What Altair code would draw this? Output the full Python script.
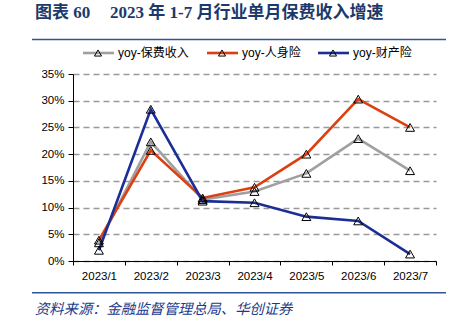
import altair as alt
import pandas as pd

months = ["2023/1", "2023/2", "2023/3", "2023/4", "2023/5", "2023/6", "2023/7"]
series_names = ["yoy-保费收入", "yoy-人身险", "yoy-财产险"]
premium = [3.4, 22.3, 11.5, 13.0, 16.4, 22.9, 16.9]
life = [3.9, 20.7, 11.8, 13.8, 20.0, 30.3, 25.0]
property_ins = [2.0, 28.4, 11.2, 10.9, 8.3, 7.5, 1.3]
y_ticks = [0, 0.05, 0.10, 0.15, 0.20, 0.25, 0.30, 0.35]
colors = ["#A0A0A0", "#DC4010", "#1B2E96"]

title_left = "图表 60"
title_right = "2023 年 1-7 月行业单月保费收入增速"
source_text = "资料来源：金融监督管理总局、华创证券"

W, H = 363, 187
FONT = "Liberation Sans, Noto Sans CJK SC"

rows = []
for name, vals in zip(series_names, [premium, life, property_ins]):
    for m, v in zip(months, vals):
        rows.append({"month": m, "series": name, "value": v / 100})
df = pd.DataFrame(rows)

xenc = alt.X("month:N", sort=months,
             scale=alt.Scale(type="band", paddingInner=0, paddingOuter=0),
             axis=alt.Axis(title=None, labelAngle=0, tickBand="extent", grid=False,
                           domainColor="#000", tickColor="#000", tickSize=4,
                           labelFont=FONT, labelFontSize=11.5, labelColor="#000",
                           labelPadding=5))
yscale = alt.Scale(domain=[0, 0.35], nice=False, zero=True)
yenc = alt.Y("value:Q", scale=yscale,
             axis=alt.Axis(title=None, values=y_ticks, format=".0%",
                           grid=True, gridDash=[6, 4], gridColor="#999999", gridWidth=1.3,
                           domainColor="#000", tickColor="#000", tickSize=5,
                           labelFont=FONT, labelFontSize=11.5, labelColor="#000",
                           labelPadding=4))

layers = []
for name, col in zip(series_names, colors):
    sub = df[df["series"] == name]
    layers.append(alt.Chart(sub).mark_line(color=col, strokeWidth=2.6).encode(x=xenc, y=yenc))
for name in series_names:
    sub = df[df["series"] == name]
    layers.append(alt.Chart(sub).mark_point(shape="triangle-up", filled=False, color="#000",
                                            strokeWidth=1, size=80, opacity=1).encode(x=xenc, y=yenc))

# custom legend
leg_line_x = [10, 134, 245]
leg = pd.DataFrame({"series": series_names, "x1": leg_line_x,
                    "x2": [v + 31 for v in leg_line_x],
                    "tx": [v + 15 for v in leg_line_x],
                    "lx": [v + 35 for v in leg_line_x],
                    "y": [-21] * 3})
cscale = alt.Scale(domain=series_names, range=colors)
leg_rule = alt.Chart(leg).mark_rule(strokeWidth=2.6).encode(
    x=alt.X("x1:Q", scale=None), x2="x2:Q", y=alt.Y("y:Q", scale=None),
    color=alt.Color("series:N", scale=cscale, legend=None))
leg_tri = alt.Chart(leg).mark_point(shape="triangle-up", filled=False, color="#000",
                                    strokeWidth=1, size=50, opacity=1).encode(
    x=alt.X("tx:Q", scale=None), y=alt.Y("y:Q", scale=None))
leg_txt = alt.Chart(leg).mark_text(align="left", baseline="middle", font=FONT,
                                   fontSize=12, color="#000").encode(
    x=alt.X("lx:Q", scale=None), y=alt.Y("y:Q", scale=None), text="series:N")

# title & source
deco = pd.DataFrame({"t": [title_left, title_right], "x": [-38, 37], "y": [-61, -61]})
title_txt = alt.Chart(deco).mark_text(align="left", baseline="middle",
                                      font="Liberation Serif, Noto Sans CJK SC",
                                      fontSize=17, fontWeight="bold", color="#1B3A6B").encode(
    x=alt.X("x:Q", scale=None), y=alt.Y("y:Q", scale=None), text="t:N")
src = pd.DataFrame({"t": [source_text], "x": [-38], "y": [236]})
src_txt = alt.Chart(src).mark_text(align="left", baseline="middle",
                                   font="Noto Sans CJK SC", fontStyle="italic",
                                   fontSize=14.3, color="#1B3A8B").encode(
    x=alt.X("x:Q", scale=None), y=alt.Y("y:Q", scale=None), text="t:N")
top_rule = alt.Chart(src).mark_rule(color="#2E5597", strokeWidth=1.6).encode(
    x=alt.value(-41), x2=alt.value(373), y=alt.value(-34.5))
bot_rule = alt.Chart(src).mark_rule(color="#2E5597", strokeWidth=1.6).encode(
    x=alt.value(-41), x2=alt.value(373), y=alt.value(218.7))

chart = alt.layer(*layers, leg_rule, leg_tri, leg_txt, title_txt, src_txt, top_rule, bot_rule).properties(
    width=W, height=H,
    autosize=alt.AutoSizeParams(type="none"),
    padding={"left": 73, "top": 74, "right": 18, "bottom": 62},
    background="white"
).configure_view(stroke=None)

chart.save("out.html", embed_options={"renderer": "svg", "actions": False})
